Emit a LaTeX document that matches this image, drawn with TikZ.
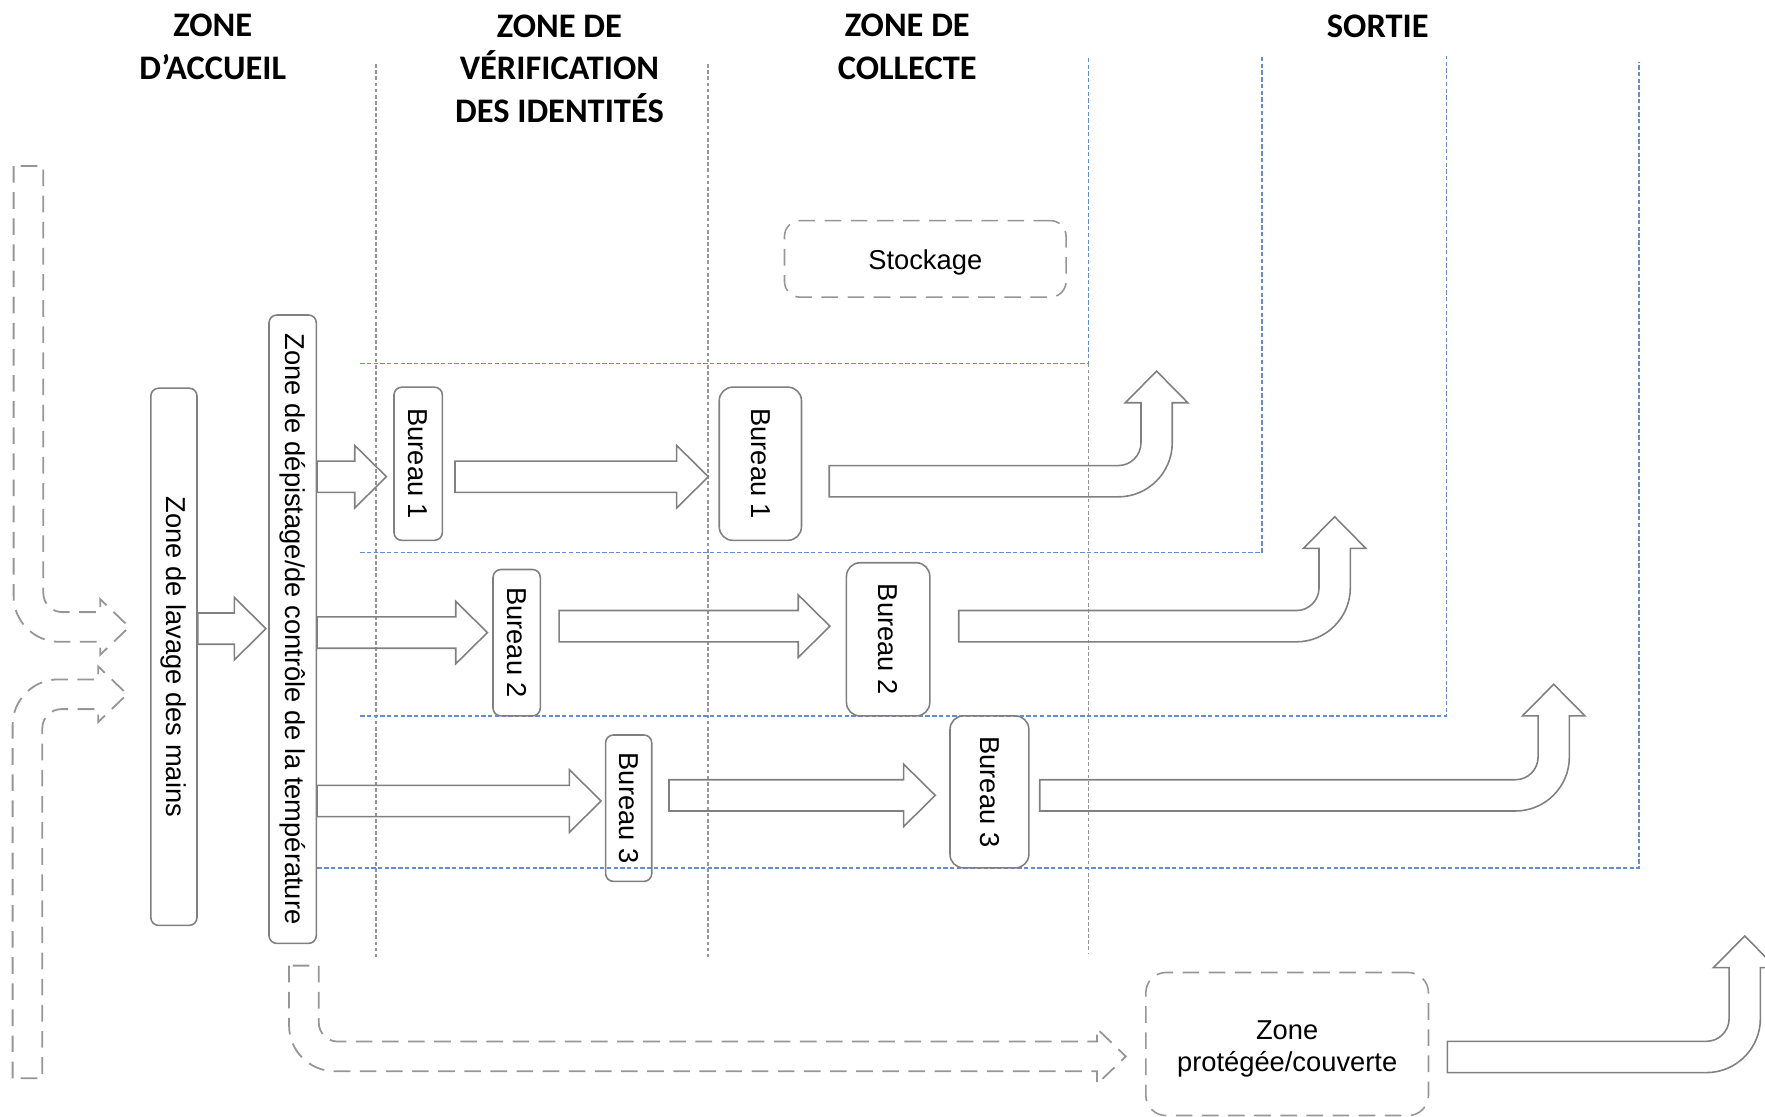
\documentclass[tikz,border=0pt]{standalone}
\usepackage{fontspec}
\usepackage{graphicx}
\setmainfont{Liberation Sans}
\newfontfamily\zonefam{Carlito}
\usetikzlibrary{calc}

\definecolor{linegray}{RGB}{128,128,128}
\definecolor{dashgray}{RGB}{150,150,150}
\definecolor{sepgray}{RGB}{150,150,150}
\definecolor{laneblue}{RGB}{100,140,212}

% solid block arrows
\def\shw{3.95pt}
\def\hdw{7.9pt}
\def\hdl{8pt}
\def\rin{5.7pt}
\def\rout{13.6pt}
% dashed entry arrows
\def\dsw{3.75pt}
\def\dhw{7pt}
\def\dhl{7.3pt}
\def\drin{4.8pt}
\def\drout{11.5pt}

\newcommand{\blockarrow}[3][]{%
  \draw[blockline,#1] let \p1=(#2), \p2=(#3) in
    (\x1,\y1+\shw) -- (\x2-\hdl,\y1+\shw) -- (\x2-\hdl,\y1+\hdw) -- (\x2,\y1)
    -- (\x2-\hdl,\y1-\hdw) -- (\x2-\hdl,\y1-\shw) -- (\x1,\y1-\shw) -- cycle;}

\newcommand{\bendup}[3][]{%
  \draw[blockline,#1] let \p1=(#2), \p2=(#3) in
    (\x1,\y1+\shw) -- (\x2-\shw-\rin,\y1+\shw)
    .. controls (\x2-\shw-0.45*\rin,\y1+\shw) and (\x2-\shw,\y1+\shw+0.45*\rin) .. (\x2-\shw,\y1+\shw+\rin)
    -- (\x2-\shw,\y2-\hdl) -- (\x2-\hdw,\y2-\hdl) -- (\x2,\y2) -- (\x2+\hdw,\y2-\hdl) -- (\x2+\shw,\y2-\hdl)
    -- (\x2+\shw,\y1-\shw+\rout)
    .. controls (\x2+\shw,\y1-\shw+0.45*\rout) and (\x2+\shw-0.45*\rout,\y1-\shw) .. (\x2+\shw-\rout,\y1-\shw)
    -- (\x1,\y1-\shw) -- cycle;}

% #4 = 1 : band comes from above, -1 : from below
\newcommand{\turnright}[4][]{%
  \draw[dashline,#1] let \p1=(#2), \p2=(#3) in
    (\x1-\dsw,\y1) -- (\x1-\dsw,{\y2+(#4)*(\drout-\dsw)})
    .. controls (\x1-\dsw,{\y2+(#4)*(0.45*\drout-\dsw)}) and ({\x1-\dsw+0.45*\drout},{\y2-(#4)*\dsw}) .. ({\x1-\dsw+\drout},{\y2-(#4)*\dsw})
    -- (\x2-\dhl,{\y2-(#4)*\dsw}) -- (\x2-\dhl,{\y2-(#4)*\dhw}) -- (\x2,\y2)
    -- (\x2-\dhl,{\y2+(#4)*\dhw}) -- (\x2-\dhl,{\y2+(#4)*\dsw})
    -- ({\x1+\dsw+\drin},{\y2+(#4)*\dsw})
    .. controls ({\x1+\dsw+0.45*\drin},{\y2+(#4)*\dsw}) and (\x1+\dsw,{\y2+(#4)*(\dsw+0.45*\drin)}) .. (\x1+\dsw,{\y2+(#4)*(\dsw+\drin)})
    -- (\x1+\dsw,\y1) -- cycle;}

\begin{document}
\begin{tikzpicture}[x=0.01cm, y=-0.01cm,
  box/.style={draw=linegray, line width=0.4pt, rounded corners=0.07cm, inner sep=0pt,
    font=\fontsize{6.9}{8}\selectfont},
  bigbox/.style={box, rounded corners=0.12cm},
  dashbox/.style={box, draw=dashgray, dash pattern=on 4.2pt off 2.4pt, rounded corners=0.14cm},
  boxtext/.style={align=center, inner sep=0pt, font=\fontsize{6.9}{8}\selectfont},
  zone/.style={align=center, inner sep=0pt, font=\zonefam\bfseries\fontsize{8.7}{10.8}\selectfont},
  blockline/.style={draw=linegray, line width=0.4pt},
  dashline/.style={draw=dashgray, line width=0.45pt, dash pattern=on 4.2pt off 2.4pt},
  sep/.style={sepgray, line width=0.35pt, dash pattern=on 0.95pt off 0.6pt},
  lane/.style={laneblue, line width=0.4pt, dash pattern=on 1.1pt off 0.6pt}]
 \useasboundingbox (0,0) rectangle (1568,992);

 \node[zone] (hAccueil) at (189,41.5) {ZONE\\D’ACCUEIL};
 \node[zone] (hVerif) at (497,61) {ZONE DE\\VÉRIFICATION\\DES IDENTITÉS};
 \node[zone] (hCollecte) at (806,41.5) {ZONE DE\\COLLECTE};
 \node[zone] (hSortie) at (1224,23) {SORTIE};

 \draw[sep] (334,57) -- (334,850);
 \draw[sep] (629,57) -- (629,850);
 \draw[sep] (967,323) -- (967,847);

 \draw[lane] (320,323) -- (967,323) -- (967,50);
 \draw[lane] (320,491) -- (1121,491) -- (1121,50);
 \draw[lane] (320,636) -- (1285,636) -- (1285,50);
 \draw[lane] (282,771) -- (1456,771) -- (1456,55);

 \node[box, minimum width=0.41cm, minimum height=4.77cm] (lav) at (154.5,583.5) {\rotatebox{-90}{Zone de lavage des mains}};
 \node[box, minimum width=0.42cm, minimum height=5.58cm] (dep) at (260,559) {\rotatebox{-90}{Zone de dépistage/de contrôle de la température}};

 \node[box, minimum width=0.43cm, minimum height=1.36cm] (b1l) at (371.5,412) {\rotatebox{-90}{Bureau 1}};
 \node[bigbox, minimum width=0.73cm, minimum height=1.36cm] (b1r) at (675.5,412) {\rotatebox{-90}{Bureau 1}};
 \node[box, minimum width=0.42cm, minimum height=1.30cm] (b2l) at (459,571) {\rotatebox{-90}{Bureau 2}};
 \node[bigbox, minimum width=0.74cm, minimum height=1.36cm] (b2r) at (789,568) {\rotatebox{-90}{Bureau 2}};
 \node[box, minimum width=0.41cm, minimum height=1.30cm] (b3l) at (558.5,718) {\rotatebox{-90}{Bureau 3}};
 \node[bigbox, minimum width=0.70cm, minimum height=1.35cm] (b3r) at (879,703.5) {\rotatebox{-90}{Bureau 3}};

 \node[dashbox, minimum width=2.50cm, minimum height=0.68cm,
   label={[boxtext, yshift=-0.9pt]center:Stockage}] (stock) at (822,230) {};
 \node[dashbox, minimum width=2.51cm, minimum height=1.27cm, rounded corners=0.18cm,
   label={[boxtext, yshift=-1.3pt]center:Zone\\protégée/couverte}] (abri) at (1143.5,927.5) {};

 \coordinate (ylav) at (0,558.5);
 \coordinate (y1a) at (0,423.5);
 \coordinate (y1b) at (0,427.5);
 \coordinate (y2a) at (0,562);
 \coordinate (y2b) at (0,556.3);
 \coordinate (y3a) at (0,711.6);
 \coordinate (y3b) at (0,706.6);
 \coordinate (exit1) at (1027.5,329.7);
 \coordinate (exit2) at (1185.7,459.1);
 \coordinate (exit3) at (1380.3,607.9);
 \coordinate (exit4) at (1550,831.5);
 \coordinate (inTop) at (25.3,147.5);
 \coordinate (inBot) at (24.4,958);

 \turnright{inTop}{$(lav.west)+(-18.5,-26.5)$}{1}
 \turnright{inBot}{$(lav.west)+(-20.3,33.3)$}{-1}
 \blockarrow{lav.east |- ylav}{$(dep.west |- ylav)+(-2,0)$}

 \blockarrow{dep.east |- y1a}{$(b1l.west |- y1a)+(-6,0)$}
 \blockarrow{$(b1l.east |- y1a)+(10.5,0)$}{$(b1r.west |- y1a)+(-9,0)$}
 \bendup{$(b1r.east |- y1b)+(24,0)$}{exit1}

 \blockarrow{dep.east |- y2a}{$(b2l.west |- y2a)+(-4.3,0)$}
 \blockarrow{$(b2l.east |- y2b)+(16,0)$}{$(b2r.west |- y2b)+(-14,0)$}
 \bendup{$(b2r.east |- y2b)+(25,0)$}{exit2}

 \blockarrow{dep.east |- y3a}{$(b3l.west |- y3a)+(-3.3,0)$}
 \blockarrow{$(b3l.east |- y3b)+(14.6,0)$}{$(b3r.west |- y3b)+(-12.4,0)$}
 \bendup{$(b3r.east |- y3b)+(9,0)$}{exit3}

 \turnright{$(dep.south)+(10,19)$}{$(abri.west)+(-17,11)$}{1}
 \bendup{$(abri.east)+(16,11.5)$}{exit4}
\end{tikzpicture}
\end{document}
